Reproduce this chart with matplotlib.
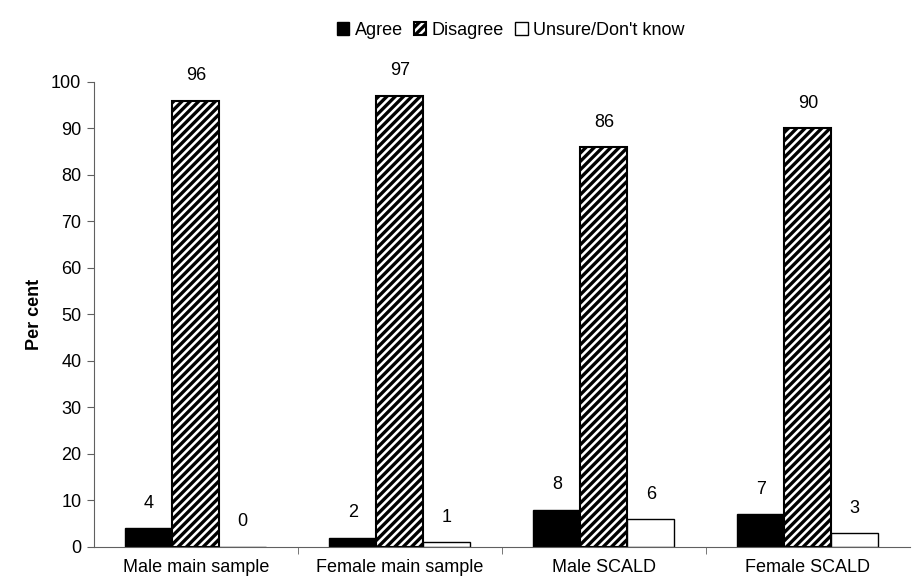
import matplotlib.pyplot as plt
import numpy as np

plt.rcParams['font.family'] = ['Liberation Sans', 'DejaVu Sans']
plt.rcParams['hatch.linewidth'] = 2.4

groups = ['Male main sample', 'Female main sample', 'Male SCALD', 'Female SCALD']
agree = [4, 2, 8, 7]
disagree = [96, 97, 86, 90]
unsure = [0, 1, 6, 3]

fig = plt.figure(figsize=(9.2, 5.85), dpi=100)
ax = fig.add_axes([0.102, 0.065, 0.887, 0.795])

x = np.arange(len(groups))
w = 0.23
b1 = ax.bar(x - w, agree, w, color='black', edgecolor='black', linewidth=1, label='Agree')
b2 = ax.bar(x, disagree, w, color='white', edgecolor='black', hatch='////', linewidth=1.5, label='Disagree')
b3 = ax.bar(x + w, unsure, w, color='white', edgecolor='black', linewidth=1, label="Unsure/Don't know")

for bars, vals in [(b1, agree), (b2, disagree), (b3, unsure)]:
    for r, v in zip(bars, vals):
        ax.annotate(str(v), (r.get_x() + r.get_width() / 2, v), xytext=(0, 18),
                    textcoords='offset points', ha='center', va='center', fontsize=13)

ax.set_xlim(-0.5, len(groups) - 0.5)
ax.set_ylim(0, 100)
ax.set_yticks(range(0, 101, 10))
ax.set_xticks(x)
ax.set_xticklabels(groups, fontsize=13)
ax.set_xticks(np.arange(0.5, len(groups) - 0.5, 1), minor=True)
ax.tick_params(axis='x', which='major', length=0, pad=9)
ax.tick_params(axis='x', which='minor', length=5, direction='out', color='#606060')
ax.tick_params(axis='y', labelsize=13, length=5, color='#606060', pad=4)
for s in ['top', 'right']:
    ax.spines[s].set_visible(False)
ax.spines['left'].set_color('#606060')
ax.spines['bottom'].set_color('#606060')
ax.set_ylabel('Per cent', fontsize=13, fontweight='bold', labelpad=6)

fig.legend(loc='upper center', bbox_to_anchor=(0.555, 0.99), ncol=3, frameon=False,
           fontsize=13, handlelength=0.7, handleheight=0.7, handletextpad=0.3, columnspacing=0.6)

fig.savefig('out.png', dpi=100)
